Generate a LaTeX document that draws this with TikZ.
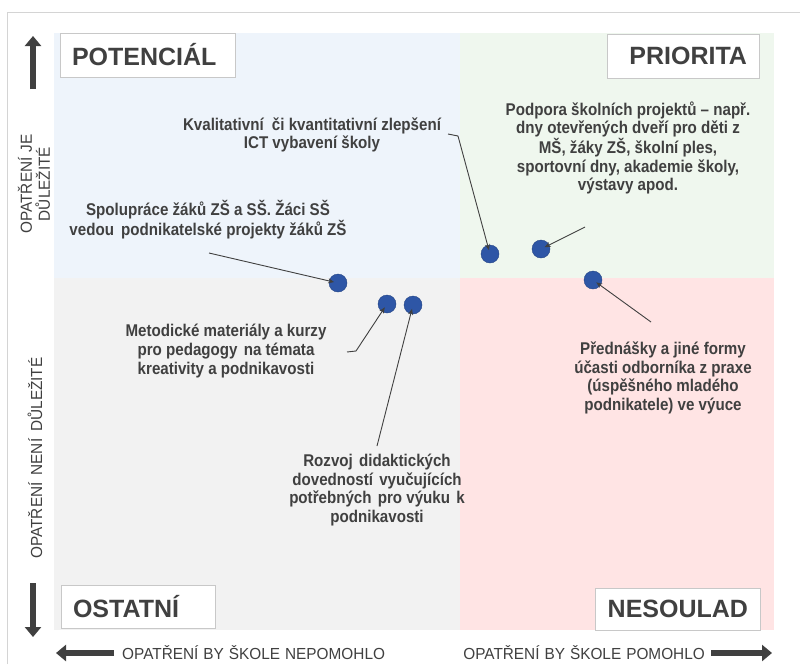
\documentclass[tikz,border=0pt]{standalone}
\usepackage{fontspec}
\setmainfont{Liberation Sans}
\newfontfamily\descfont[FakeStretch=0.89]{Liberation Sans}
\newfontfamily\axisfont[FakeStretch=0.96]{Liberation Sans}
\usetikzlibrary{arrows.meta}
\definecolor{txt}{HTML}{404040}
\definecolor{qblue}{HTML}{EEF4FB}
\definecolor{qgreen}{HTML}{EFF7EE}
\definecolor{qgray}{HTML}{F2F2F2}
\definecolor{qpink}{HTML}{FFE4E4}
\definecolor{boxgray}{HTML}{C8C8C8}
\definecolor{framegray}{HTML}{D4D4D4}
\definecolor{dotblue}{HTML}{2E56A6}
\begin{document}
\begin{tikzpicture}[x=1pt,y=-1pt,
  quadlabel/.style={draw=boxgray, fill=white, line width=0.8pt, text=txt,
    font=\fontsize{25}{30}\selectfont\bfseries, inner xsep=12pt, inner ysep=0pt,
    minimum height=44pt},
  desc/.style={font=\fontsize{17}{18.6}\selectfont\descfont\bfseries, text=txt,
    align=center, inner sep=0pt},
  axislabel/.style={font=\fontsize{16}{18}\selectfont\axisfont, text=txt, inner sep=0pt},
  dot/.style={circle, fill=dotblue, draw=dotblue!80!black, line width=0.4pt,
    minimum size=18pt, inner sep=0pt},
  conn/.style={draw=txt, line width=0.9pt, -{Stealth[length=6pt,width=5pt]},
    shorten >=4pt},
  bigarrow/.style={draw=txt, line width=6.5pt, -{Triangle[length=10pt,width=16pt]}}
]
\useasboundingbox (0,0) rectangle (800,664);
\fill[white] (0,0) rectangle (800,664);
% frame
\draw[framegray, line width=0.8pt] (7.5,664) -- (7.5,12.5) -- (800,12.5);
% quadrants
\fill[qblue]  (54,33)  rectangle (460,278);
\fill[qgreen] (460,33) rectangle (774,278);
\fill[qgray]  (54,278) rectangle (460,630);
\fill[qpink]  (460,278) rectangle (774,630);
% quadrant labels
\node[quadlabel, text width=151pt, align=left] (pot) at (147.5,55) {POTENCIÁL};
\node[quadlabel, text width=128pt, align=right] (pri) at (683,56) {PRIORITA};
\node[quadlabel, text width=130pt, align=left, minimum height=43pt] (ost) at (138,606.5) {OSTATNÍ};
\node[quadlabel, text width=141pt, align=right, minimum height=42pt] (nes) at (677.5,609) {NESOULAD};
% axis arrows
\coordinate (upT) at (33,89);  \coordinate (upH) at (33,36);
\coordinate (dnT) at (33,583); \coordinate (dnH) at (33,637);
\coordinate (lfT) at (114,653); \coordinate (lfH) at (56,653);
\coordinate (rtT) at (711,653); \coordinate (rtH) at (772,653);
\draw[bigarrow] (upT) -- (upH);
\draw[bigarrow] (dnT) -- (dnH);
\draw[bigarrow] (lfT) -- (lfH);
\draw[bigarrow] (rtT) -- (rtH);
% axis labels
\node[axislabel, anchor=west] (xl) at (122,653) {OPATŘENÍ\hspace{5pt}BY\hspace{5pt}ŠKOLE\hspace{5pt}NEPOMOHLO};
\node[axislabel, anchor=east] (xr) at (705,653) {OPATŘENÍ\hspace{5pt}BY\hspace{5pt}ŠKOLE\hspace{5pt}POMOHLO};
\node[axislabel, rotate=90, align=center] (yt) at (34,184) {OPATŘENÍ\hspace{5pt}JE\\DŮLEŽITÉ};
\node[axislabel, rotate=90] (yb) at (35,458) {OPATŘENÍ\hspace{7pt}NENÍ\hspace{7pt}DŮLEŽITÉ};
% descriptions
\node[desc] (kval) at (312,135) {Kvalitativní\hspace{4pt} či kvantitativní zlepšení\\ICT vybavení školy};
\node[desc] (podp) at (628,148) {Podpora školních projektů – např.\\dny otevřených dveří pro děti z\\MŠ, žáky ZŠ, školní ples,\\sportovní dny, akademie školy,\\výstavy apod.};
\node[desc] (spol) at (208,220) {Spolupráce žáků ZŠ a SŠ. Žáci SŠ\\vedou\hspace{3pt} podnikatelské projekty žáků ZŠ};
\node[desc] (meto) at (226,351) {Metodické materiály a kurzy\\pro pedagogy\hspace{2pt} na témata\\kreativity a podnikavosti};
\node[desc] (pred) at (663,378) {Přednášky a jiné formy\\účasti odborníka z praxe\\(úspěšného mladého\\podnikatele) ve výuce};
\node[desc] (rozv) at (377,490) {Rozvoj\hspace{2pt} didaktických\\dovedností\hspace{2pt} vyučujících\\potřebných\hspace{2pt} pro výuku\hspace{2pt} k\\podnikavosti};
% dots
\node[dot] (dspol) at (338,283) {};
\node[dot] (dmeto) at (387,304) {};
\node[dot] (drozv) at (413,305) {};
\node[dot] (dkval) at (490,254) {};
\node[dot] (dpodp) at (541,249) {};
\node[dot] (dpred) at (593,280) {};
% connector free ends
\coordinate (cspol) at (209,253);
\coordinate (cmeto) at (347,352);
\coordinate (cmeto2) at (356,351);
\coordinate (crozv) at (377,446);
\coordinate (ckval) at (448,134);
\coordinate (ckval2) at (458,136);
\coordinate (cpodp) at (585,227);
\coordinate (cpred) at (651,322);
% connectors
\draw[conn] (cspol) -- (dspol.center);
\draw[conn] (cmeto) -- (cmeto2) -- (dmeto.center);
\draw[conn] (crozv) -- (drozv.center);
\draw[conn] (ckval) -- (ckval2) -- (dkval.center);
\draw[conn] (cpodp) -- (dpodp.center);
\draw[conn] (cpred) -- (dpred.center);
\end{tikzpicture}
\end{document}
